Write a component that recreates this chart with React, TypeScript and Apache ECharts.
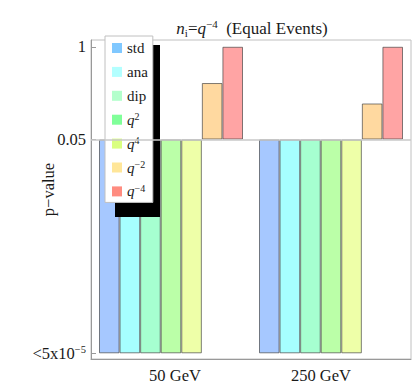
import React, { useEffect, useRef } from "react";
import * as echarts from "echarts";

const categories = ["50 GeV", "250 GeV"];
const seriesNames = ["std", "ana", "dip", "q2", "q4", "q-2", "q-4"];
const pStd = [5e-5, 5e-5];
const pAna = [5e-5, 5e-5];
const pDip = [5e-5, 5e-5];
const pQ2 = [5e-5, 5e-5];
const pQ4 = [5e-5, 5e-5];
const pQm2 = [0.31, 0.16];
const pQm4 = [1, 1];
const yTickValues = [5e-5, 0.05, 1];
const BASE = 0.05;

const barColors = ["#a6c8ff", "#a6ffff", "#a6ffd0", "#bbffa8", "#eeffa8", "#ffd9a0", "#ffa4a4"];
const legendColors = ["#80c8ff", "#b3ffff", "#b3ffcc", "#80ff99", "#d9ff80", "#ffe699", "#ff8c80"];

const SERIF = "'Liberation Serif', 'DejaVu Serif', serif";
const TXT = "#1a1a1a";

export default function App() {
  const ref = useRef<HTMLDivElement>(null);
  useEffect(() => {
    const chart = echarts.init(ref.current!, null, { renderer: "svg" });
    const tr = (p: number) => Math.log10(p / BASE);
    const data = [pStd, pAna, pDip, pQ2, pQ4, pQm2, pQm4];
    const tickT = yTickValues.map(tr);
    const legendFmt = (name: string) => {
      if (name.startsWith("q")) {
        const e = name.slice(1).replace("-", "\u2212");
        return `{it|q}{sup|${e}}`;
      }
      return `{t|${name}}`;
    };
    const series: any[] = seriesNames.map((name, i) => ({
      name,
      type: "bar",
      data: data[i].map(tr),
      barGap: "0%",
      barCategoryGap: "10%",
      itemStyle: { color: barColors[i], borderColor: "rgba(60,60,60,0.65)", borderWidth: 1 },
      emphasis: { disabled: true },
      silent: true,
    }));
    series[0].markLine = {
      silent: true,
      symbol: "none",
      label: { show: false },
      lineStyle: { color: "#c8c8c8", width: 1.5, type: "solid" },
      data: [{ yAxis: 0 }],
    };
    const base = { fontFamily: SERIF, color: TXT, fontWeight: "normal" };
    chart.setOption({
      animation: false,
      title: {
        text: "{it|n}{sub|i}{n|=}{it|q}{sup|\u22124}{n|  (Equal Events)}",
        left: 247,
        top: 13,
        textAlign: "center",
        textStyle: {
          fontWeight: "normal",
          rich: {
            n: { ...base, fontSize: 17, lineHeight: 20 },
            it: { ...base, fontSize: 17, fontStyle: "italic", lineHeight: 20 },
            sup: { ...base, fontSize: 11, lineHeight: 11, verticalAlign: "top" },
            sub: { ...base, fontSize: 11, lineHeight: 11, verticalAlign: "bottom" },
          },
        },
      },
      grid: { left: 91, right: 4, top: 40, bottom: 29, show: true, borderColor: "#c0c0c0", borderWidth: 1 },
      legend: {
        orient: "vertical",
        left: 105,
        top: 36,
        padding: [4, 5, 3, 7],
        itemWidth: 10,
        itemHeight: 10,
        itemGap: 7.9,
        icon: "rect",
        backgroundColor: "#fff",
        borderColor: "#c0c0c0",
        borderWidth: 1,
        selectedMode: false,
        data: seriesNames.map((n, i) => ({ name: n, itemStyle: { color: legendColors[i], borderWidth: 0 } })),
        formatter: legendFmt,
        textStyle: {
          ...base,
          fontSize: 15,
          lineHeight: 16,
          rich: {
            t: { ...base, fontSize: 15, lineHeight: 16 },
            it: { ...base, fontSize: 15, fontStyle: "italic", lineHeight: 16 },
            sup: { ...base, fontSize: 10, lineHeight: 10, padding: [0, 0, 6, 0] },
          },
        },
      },
      graphic: [
        { type: "rect", z: 3, shape: { x: 115, y: 45, width: 45, height: 172 }, style: { fill: "#000" } },
      ],
      xAxis: {
        type: "category",
        data: categories,
        axisLine: { onZero: false, lineStyle: { color: "#999" } },
        axisTick: { show: false },
        axisLabel: {
          margin: 8,
          formatter: (v: string) => (v === categories[0] ? `{a|${v}}` : `{b|${v}}`),
          rich: {
            a: { ...base, fontSize: 16.5, padding: [0, 0, 0, 8] },
            b: { ...base, fontSize: 16.5, padding: [0, 20, 0, 0] },
          },
        },
      },
      yAxis: {
        type: "value",
        min: -3.08,
        max: 1.396,
        name: "p\u2212value",
        nameLocation: "middle",
        nameGap: 34,
        nameMoveOverlap: false,
        nameTextStyle: { ...base, fontSize: 16.5, padding: [0, 0, 0, 20] },
        splitLine: { show: false },
        axisLine: { show: true, lineStyle: { color: "#999" } },
        axisTick: { show: true, inside: true, length: 5, customValues: tickT, lineStyle: { color: "#999" } },
        axisLabel: {
          margin: 5,
          customValues: tickT,
          formatter: (v: number) => {
            const idx = tickT.findIndex((t) => Math.abs(t - v) < 1e-6);
            const p = yTickValues[idx];
            if (p === 1) return "{n|1}";
            if (p === 0.05) return "{n|0.05}";
            return "{n|<5x10}{sup|\u22125}";
          },
          rich: {
            n: { ...base, fontSize: 16.5, lineHeight: 18 },
            sup: { ...base, fontSize: 10.5, lineHeight: 10, verticalAlign: "top" },
          },
        },
      },
      series,
    });
    return () => chart.dispose();
  }, []);
  return <div ref={ref} style={{ position: "absolute", left: 0, top: 0, width: 415, height: 388 }} />;
}
